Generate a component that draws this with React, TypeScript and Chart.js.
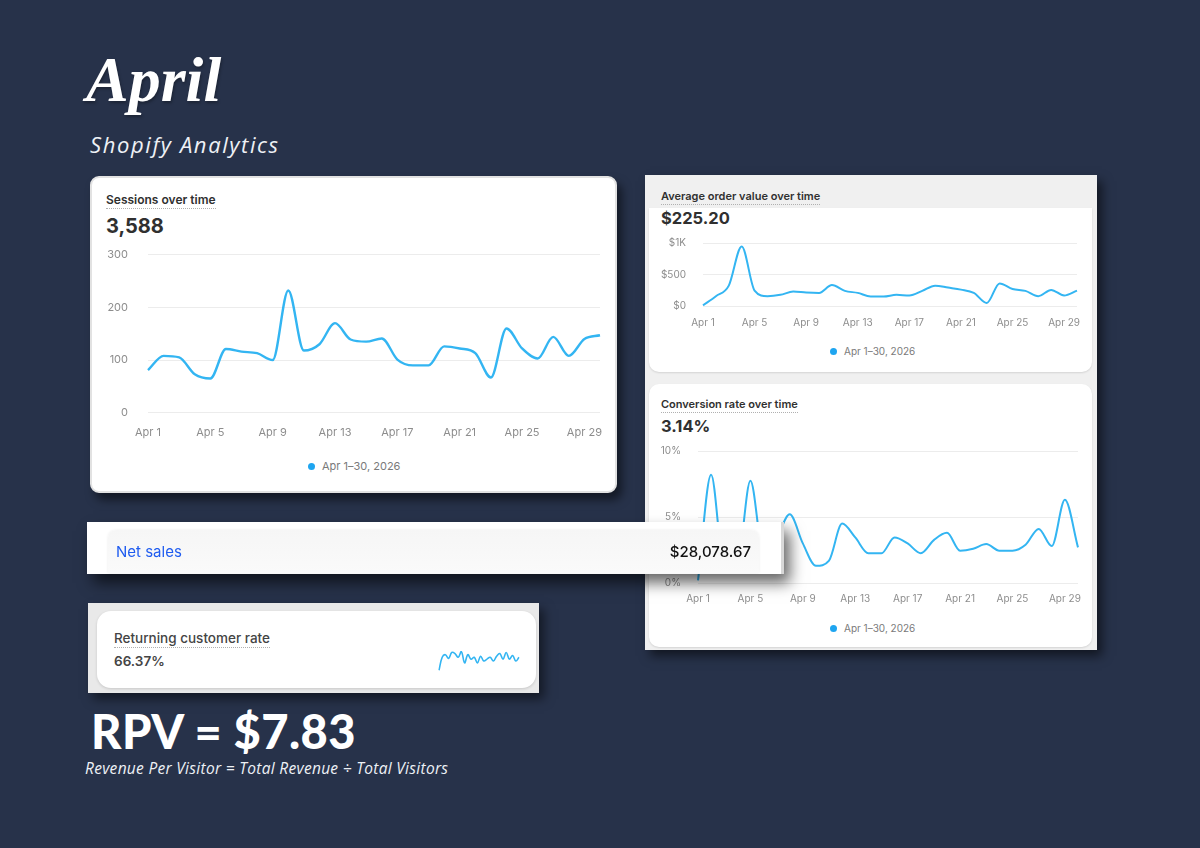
import { useEffect, useRef } from "react";
import { Chart, registerables } from "chart.js";

Chart.register(...registerables);

// categories
const days = Array.from({ length: 30 }, (_, i) => `Apr ${i + 1}`);
const legendLabel = "Apr 1–30, 2026";

// series
const sessions = [
  81, 108, 105, 73, 65, 121, 116, 113, 100, 232,
  118, 130, 170, 139, 135, 141, 101, 90, 90, 126,
  122, 113, 67, 160, 122, 103, 144, 108, 140, 147,
];
const orderValue = [
  10, 156, 323, 945, 245, 156, 177, 229, 214, 208,
  333, 240, 208, 151, 151, 177, 167, 240, 323, 292,
  260, 208, 47, 359, 271, 240, 156, 255, 167, 245,
];
const conversion = [
  0.2, 8.2, 1.2, 1.4, 7.75, 2.2, 3.4, 5.2, 3.0, 1.3,
  1.7, 4.5, 3.45, 2.25, 2.25, 3.45, 3.0, 2.25, 3.25, 3.8,
  2.45, 2.6, 2.95, 2.45, 2.45, 2.9, 4.1, 2.8, 6.3, 2.7,
];
const returning = [
  10, 45, 52, 42, 58, 55, 45, 60, 30, 52, 40, 45, 30,
  48, 35, 40, 45, 35, 48, 55, 40, 58, 40, 50, 35, 45,
];

// y axis ticks
const sessionTicks = [0, 100, 200, 300];
const orderTicks = [0, 500, 1000];
const orderTickLabels = ["$0", "$500", "$1K"];
const conversionTicks = [0, 5, 10];
const conversionTickLabels = ["0%", "5%", "10%"];

const LINE = "#33b5f2";
const TICK = "#8d8d8d";

type TrendProps = {
  values: number[];
  ticks: number[];
  tickLabels: string[];
  left: number;
  top: number;
  width: number;
  height: number;
  axisWidth: number;
  yPad: number;
  xPad: number;
  fontSize: number;
  lineWidth: number;
};

function TrendChart(p: TrendProps) {
  const ref = useRef<HTMLCanvasElement>(null);

  useEffect(() => {
    if (!ref.current) return;
    const chart = new Chart(ref.current, {
      type: "line",
      data: {
        labels: days,
        datasets: [
          {
            data: p.values,
            borderColor: LINE,
            borderWidth: p.lineWidth,
            pointRadius: 0,
            cubicInterpolationMode: "monotone",
            fill: false,
          },
        ],
      },
      options: {
        animation: false,
        responsive: true,
        maintainAspectRatio: false,
        layout: { padding: { top: 10, right: 6, left: 0, bottom: 0 } },
        plugins: { legend: { display: false }, tooltip: { enabled: false } },
        scales: {
          x: {
            grid: { display: false, drawTicks: false },
            border: { display: false },
            ticks: {
              autoSkip: false,
              maxRotation: 0,
              padding: p.xPad,
              color: TICK,
              font: { family: "Inter", size: p.fontSize },
              callback: (_v, i) => (i % 4 === 0 ? days[i] : ""),
            },
          },
          y: {
            min: p.ticks[0],
            max: p.ticks[p.ticks.length - 1],
            afterFit: (scale) => {
              scale.width = p.axisWidth;
            },
            afterBuildTicks: (scale) => {
              scale.ticks = p.ticks.map((v) => ({ value: v }));
            },
            grid: { color: "#ececec", drawTicks: false },
            border: { display: false },
            ticks: {
              padding: p.yPad,
              color: TICK,
              font: { family: "Inter", size: p.fontSize },
              callback: (v) => p.tickLabels[p.ticks.indexOf(Number(v))] ?? "",
            },
          },
        },
      },
    });
    return () => chart.destroy();
  }, []);

  return (
    <div
      style={{
        position: "absolute",
        left: p.left,
        top: p.top,
        width: p.width,
        height: p.height,
      }}
    >
      <canvas ref={ref} />
    </div>
  );
}

function Sparkline() {
  const ref = useRef<HTMLCanvasElement>(null);

  useEffect(() => {
    if (!ref.current) return;
    const chart = new Chart(ref.current, {
      type: "line",
      data: {
        labels: returning.map((_, i) => i),
        datasets: [
          {
            data: returning,
            borderColor: LINE,
            borderWidth: 1.6,
            pointRadius: 0,
            tension: 0.4,
          },
        ],
      },
      options: {
        animation: false,
        responsive: true,
        maintainAspectRatio: false,
        layout: { padding: 1 },
        plugins: { legend: { display: false }, tooltip: { enabled: false } },
        scales: { x: { display: false }, y: { display: false, min: 8, max: 62 } },
      },
    });
    return () => chart.destroy();
  }, []);

  return (
    <div style={{ position: "absolute", left: 438, top: 650, width: 82, height: 22 }}>
      <canvas ref={ref} />
    </div>
  );
}

function Legend({ x, y, size }: { x: number; y: number; size: number }) {
  return (
    <div
      style={{
        position: "absolute",
        left: x - 4,
        top: y - 8,
        height: 16,
        display: "flex",
        alignItems: "center",
        gap: 7,
        fontFamily: "Inter",
        fontSize: size,
        color: "#7a7a7a",
      }}
    >
      <span style={{ width: 7, height: 7, borderRadius: 4, background: "#1ea5f0" }} />
      {legendLabel}
    </div>
  );
}

const abs = (left: number, top: number, extra: React.CSSProperties = {}): React.CSSProperties => ({
  position: "absolute",
  left,
  top,
  whiteSpace: "nowrap",
  ...extra,
});

const cardTitle: React.CSSProperties = {
  fontFamily: "Inter",
  fontWeight: 600,
  color: "#303030",
  borderBottom: "1px dotted #b0b0b0",
  lineHeight: "14px",
  paddingBottom: 1,
};

export default function App() {
  useEffect(() => {
    document.body.style.margin = "0";
  }, []);

  return (
    <div
      style={{
        position: "absolute",
        left: 0,
        top: 0,
        width: 1200,
        height: 848,
        overflow: "hidden",
        background: "#27324a",
      }}
    >
      {/* headings */}
      <div
        style={abs(86, 48, {
          fontFamily: "'Liberation Serif', serif",
          fontStyle: "italic",
          fontWeight: 700,
          fontSize: 64,
          lineHeight: 1,
          color: "#ffffff",
          textShadow: "1px 2px 3px rgba(0,0,0,0.3)",
        })}
      >
        April
      </div>
      <div
        style={abs(90, 133, {
          fontFamily: "'Open Sans', sans-serif",
          fontStyle: "italic",
          fontSize: 22,
          letterSpacing: 1.6,
          lineHeight: 1,
          color: "#eef1f6",
        })}
      >
        Shopify Analytics
      </div>

      {/* sessions card */}
      <div
        style={abs(90, 176, {
          width: 523,
          height: 313,
          background: "#fff",
          border: "2px solid #e2e2e2",
          borderRadius: 9,
          boxShadow: "5px 7px 10px rgba(0,0,0,0.5)",
        })}
      />
      <div style={abs(106, 193, { ...cardTitle, fontSize: 12 })}>Sessions over time</div>
      <div
        style={abs(106, 215, {
          fontFamily: "Inter",
          fontWeight: 700,
          fontSize: 20,
          lineHeight: "22px",
          color: "#303030",
        })}
      >
        3,588
      </div>
      <TrendChart
        values={sessions}
        ticks={sessionTicks}
        tickLabels={sessionTicks.map(String)}
        left={100}
        top={228}
        width={513}
        height={224}
        axisWidth={48}
        yPad={20}
        xPad={13}
        fontSize={11}
        lineWidth={2.4}
      />
      <Legend x={312} y={466} size={11} />

      {/* right panel */}
      <div
        style={abs(645, 175, {
          width: 452,
          height: 475,
          background: "#f0f0f0",
          boxShadow: "5px 6px 10px rgba(0,0,0,0.55)",
        })}
      />
      <div
        style={abs(649, 208, {
          width: 443,
          height: 164,
          background: "#fff",
          borderRadius: "0 0 10px 10px",
          boxShadow: "0 1px 2px rgba(0,0,0,0.12)",
        })}
      />
      <div style={abs(661, 189, { ...cardTitle, fontSize: 11 })}>Average order value over time</div>
      <div
        style={abs(661, 209, {
          fontFamily: "Inter",
          fontWeight: 700,
          fontSize: 16.5,
          lineHeight: "19px",
          color: "#303030",
        })}
      >
        $225.20
      </div>
      <TrendChart
        values={orderValue}
        ticks={orderTicks}
        tickLabels={orderTickLabels}
        left={650}
        top={220}
        width={438}
        height={120}
        axisWidth={53}
        yPad={17}
        xPad={11}
        fontSize={10}
        lineWidth={2}
      />
      <Legend x={834} y={351} size={10} />

      <div
        style={abs(649, 384, {
          width: 443,
          height: 263,
          background: "#fff",
          borderRadius: 10,
          boxShadow: "0 1px 2px rgba(0,0,0,0.12)",
        })}
      />
      <div style={abs(661, 397, { ...cardTitle, fontSize: 11 })}>Conversion rate over time</div>
      <div
        style={abs(661, 417, {
          fontFamily: "Inter",
          fontWeight: 700,
          fontSize: 16.5,
          lineHeight: "19px",
          color: "#303030",
        })}
      >
        3.14%
      </div>
      <TrendChart
        values={conversion}
        ticks={conversionTicks}
        tickLabels={conversionTickLabels}
        left={650}
        top={428}
        width={438}
        height={187}
        axisWidth={48}
        yPad={17}
        xPad={10}
        fontSize={10}
        lineWidth={2}
      />
      <Legend x={834} y={628} size={10} />

      {/* net sales strip */}
      <div
        style={abs(87, 522, {
          width: 697,
          height: 52,
          background: "#fff",
          borderRight: "3px solid #d8d8d8",
          boxSizing: "border-box",
          boxShadow: "6px 9px 14px rgba(0,0,0,0.6)",
          zIndex: 5,
        })}
      >
        <div
          style={{
            position: "absolute",
            left: 21,
            top: 8,
            width: 651,
            height: 43,
            background: "linear-gradient(#f6f6f6, #fafafa)",
            borderRadius: "8px 8px 0 0",
            boxShadow: "0 0 3px rgba(0,0,0,0.08)",
          }}
        />
        <div
          style={abs(29, 21, {
            fontFamily: "Inter",
            fontSize: 15,
            lineHeight: "18px",
            color: "#1f5cf0",
          })}
        >
          Net sales
        </div>
        <div
          style={abs(0, 21, {
            left: "auto",
            right: 30,
            fontFamily: "Inter",
            fontWeight: 500,
            fontSize: 15,
            lineHeight: "18px",
            color: "#111",
          })}
        >
          $28,078.67
        </div>
      </div>

      {/* returning customer rate */}
      <div
        style={abs(88, 603, {
          width: 451,
          height: 90,
          background: "#e9e9e9",
          boxShadow: "5px 6px 10px rgba(0,0,0,0.5)",
        })}
      />
      <div
        style={abs(97, 611, {
          width: 439,
          height: 77,
          background: "#fff",
          borderRadius: 14,
          boxShadow: "0 1px 3px rgba(0,0,0,0.15)",
        })}
      />
      <div
        style={abs(114, 630, {
          ...cardTitle,
          fontWeight: 500,
          fontSize: 13.5,
          lineHeight: "16px",
          color: "#444",
        })}
      >
        Returning customer rate
      </div>
      <div
        style={abs(114, 653, {
          fontFamily: "Inter",
          fontWeight: 600,
          fontSize: 13.5,
          lineHeight: "16px",
          color: "#444",
        })}
      >
        66.37%
      </div>
      <Sparkline />

      {/* RPV */}
      <div
        style={abs(91, 708, {
          fontFamily: "Lato, sans-serif",
          fontWeight: 900,
          fontSize: 47,
          letterSpacing: 0.4,
          lineHeight: 1,
          color: "#ffffff",
        })}
      >
        RPV = $7.83
      </div>
      <div
        style={abs(85, 761, {
          fontFamily: "'Open Sans', sans-serif",
          fontStyle: "italic",
          fontSize: 15.5,
          letterSpacing: 0.3,
          lineHeight: 1,
          color: "#eef1f6",
        })}
      >
        Revenue Per Visitor = Total Revenue ÷ Total Visitors
      </div>
    </div>
  );
}
